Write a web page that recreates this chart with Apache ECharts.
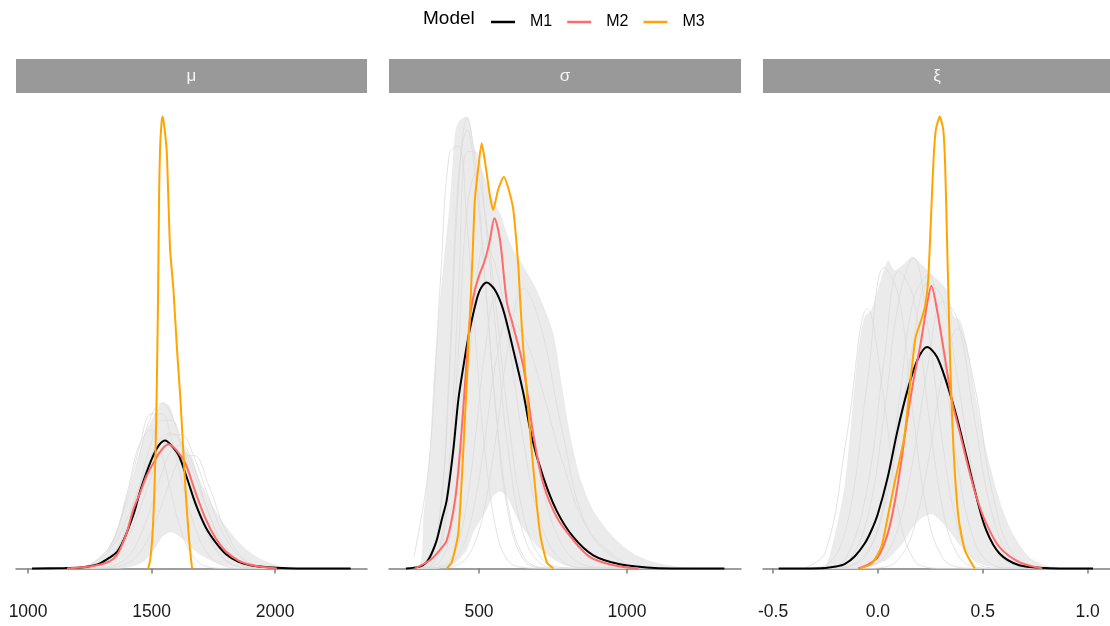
<!DOCTYPE html>
<html>
<head>
<meta charset="utf-8">
<script src="https://cdn.jsdelivr.net/npm/echarts@6/dist/echarts.min.js"></script>
<style>
  html, body { margin: 0; padding: 0; background: #ffffff; }
  #chart { width: 1110px; height: 626px; }
</style>
</head>
<body>
<div id="chart"></div>
<script>
// ---------- facet labels and tick labels ----------
const panelLabels = ['μ', 'σ', 'ξ'];
const muTicks = [1000, 1500, 2000];
const sigmaTicks = [500, 1000];
const xiTicks = [-0.5, 0, 0.5, 1.0];
const modelNames = ['M1', 'M2', 'M3'];

// ---------- μ : posterior densities (relative height) ----------
const muM1 = [[1016,0],[1150,0.001],[1211,0.002],[1260,0.006],[1291,0.011],[1330,0.024],[1359,0.036],[1380,0.055],[1400,0.08],[1430,0.125],[1453,0.17],[1480,0.213],[1507,0.25],[1530,0.273],[1555,0.283],[1580,0.272],[1610,0.25],[1640,0.205],[1680,0.14],[1720,0.09],[1760,0.057],[1800,0.032],[1850,0.015],[1900,0.007],[1960,0.003],[2030,0.001],[2100,0],[2306,0]];
const muM2 = [[1157,0],[1230,0.003],[1290,0.008],[1332,0.016],[1360,0.03],[1380,0.052],[1400,0.08],[1426,0.13],[1455,0.17],[1480,0.205],[1510,0.236],[1534,0.258],[1568,0.275],[1600,0.262],[1637,0.232],[1680,0.165],[1720,0.108],[1760,0.066],[1800,0.038],[1850,0.018],[1900,0.008],[1950,0.003],[2007,0]];
const muM3 = [[1486,0],[1494,0.018],[1502,0.062],[1510,0.151],[1516,0.262],[1520,0.372],[1526,0.594],[1530,0.815],[1534,0.926],[1540,0.985],[1545,1.0],[1551,0.98],[1561,0.926],[1568,0.815],[1575,0.704],[1588,0.62],[1603,0.483],[1617,0.372],[1628,0.262],[1640,0.151],[1652,0.062],[1660,0.018],[1664,0]];
// replicate densities on a shared grid
const muRepX = [1250,1330,1400,1450,1500,1540,1580,1620,1670,1730,1800,1880,1980];
const muReps = [
  [0.008,0.049,0.15,0.25,0.34,0.365,0.34,0.27,0.17,0.07,0.017,0.002,0],
  [0.006,0.047,0.158,0.266,0.342,0.342,0.287,0.2,0.1,0.03,0.005,0,0],
  [0.003,0.019,0.066,0.129,0.205,0.262,0.296,0.296,0.249,0.159,0.066,0.016,0.001],
  [0,0.002,0.011,0.034,0.083,0.139,0.2,0.244,0.25,0.185,0.083,0.018,0.001],
  [0.003,0.024,0.093,0.183,0.28,0.328,0.328,0.28,0.183,0.079,0.019,0.002,0],
  [0.003,0.042,0.165,0.274,0.307,0.254,0.165,0.083,0.025,0.003,0,0,0],
  [0.008,0.04,0.11,0.18,0.25,0.29,0.3,0.275,0.212,0.124,0.047,0.011,0.001],
  [0,0.004,0.024,0.067,0.14,0.209,0.261,0.274,0.226,0.124,0.037,0.005,0]
];
// extent of the replicate bundle
const muEnvX  = [1211,1291,1332,1372,1426,1467,1494,1521,1544,1575,1602,1636,1663,1696,1750,1804,1858,1926,2007,2061];
const muEnvHi = [0,0.018,0.047,0.106,0.195,0.291,0.321,0.35,0.368,0.357,0.306,0.261,0.247,0.195,0.136,0.091,0.055,0.025,0.007,0];
const muEnvLo = [0,0,0,0,0.005,0.015,0.03,0.05,0.07,0.08,0.075,0.06,0.045,0.03,0.015,0.006,0.002,0,0,0];

// ---------- σ ----------
const sigmaM1 = [[253,0],[300,0.004],[323,0.014],[340,0.033],[357,0.062],[375,0.11],[391,0.151],[413,0.261],[430,0.372],[447,0.446],[464,0.512],[486,0.579],[503,0.616],[526,0.633],[554,0.616],[582,0.572],[616,0.483],[650,0.387],[678,0.291],[717,0.202],[762,0.128],[819,0.069],[886,0.029],[976,0.009],[1067,0.002],[1150,0],[1329,0]];
const sigmaM2 = [[284,0],[334,0.018],[360,0.035],[391,0.062],[419,0.151],[436,0.261],[453,0.409],[470,0.557],[486,0.616],[503,0.653],[520,0.682],[537,0.727],[552,0.775],[571,0.727],[594,0.59],[616,0.535],[650,0.446],[683,0.298],[717,0.188],[762,0.114],[819,0.062],[875,0.025],[954,0.007],[1038,0]];
const sigmaM3 = [[391,0],[408,0.014],[430,0.078],[447,0.261],[464,0.483],[479,0.704],[486,0.815],[498,0.889],[509,0.941],[518,0.91],[527,0.87],[538,0.82],[548,0.793],[564,0.837],[584,0.867],[601,0.837],[616,0.793],[633,0.667],[639,0.594],[650,0.483],[678,0.261],[706,0.078],[729,0.014],[751,0]];
const sigmaRepX = [280,330,370,400,430,460,490,520,560,600,650,710,780,870,1000];
const sigmaReps = [
  [0.025,0.227,0.64,0.918,0.935,0.756,0.493,0.259,0.08,0.016,0.002,0,0,0,0],
  [0,0.011,0.132,0.449,0.864,0.97,0.85,0.634,0.333,0.132,0.027,0.002,0,0,0],
  [0,0.004,0.056,0.238,0.603,0.923,0.921,0.779,0.504,0.253,0.076,0.01,0,0,0],
  [0,0.012,0.13,0.42,0.835,0.998,0.882,0.65,0.325,0.117,0.02,0.001,0,0,0],
  [0,0.004,0.045,0.181,0.475,0.797,0.874,0.788,0.565,0.326,0.119,0.023,0.002,0,0],
  [0,0.002,0.017,0.067,0.187,0.397,0.619,0.72,0.659,0.505,0.282,0.097,0.017,0.001,0],
  [0,0.001,0.004,0.017,0.057,0.15,0.304,0.48,0.6,0.554,0.4,0.195,0.053,0.005,0],
  [0,0,0.002,0.009,0.029,0.074,0.16,0.286,0.468,0.55,0.516,0.403,0.24,0.085,0.009],
  [0,0,0.001,0.002,0.009,0.025,0.064,0.138,0.302,0.496,0.62,0.533,0.308,0.084,0.004]
];
const sigmaEnvX  = [250,301,312,334,346,363,378,402,419,433,458,470,481,526,548,571,594,616,638,695,751,779,807,841,886,954,1021,1089,1179,1247];
const sigmaEnvHi = [0,0.01,0.11,0.26,0.41,0.56,0.66,0.815,0.963,0.99,1.0,0.985,0.94,0.852,0.815,0.786,0.741,0.704,0.682,0.616,0.52,0.409,0.298,0.202,0.128,0.069,0.033,0.014,0.003,0];
const sigmaEnvLo = [0,0,0,0,0,0,0.002,0.006,0.012,0.02,0.04,0.06,0.08,0.13,0.16,0.17,0.16,0.13,0.1,0.05,0.02,0.01,0.004,0.001,0,0,0,0,0,0];

// ---------- ξ ----------
const xiM1 = [[-0.473,0],[-0.35,0],[-0.251,0.001],[-0.2,0.004],[-0.157,0.01],[-0.11,0.027],[-0.063,0.055],[-0.03,0.085],[0,0.121],[0.047,0.202],[0.094,0.306],[0.141,0.394],[0.188,0.461],[0.235,0.49],[0.282,0.468],[0.329,0.409],[0.376,0.335],[0.423,0.247],[0.47,0.158],[0.517,0.084],[0.58,0.033],[0.674,0.007],[0.8,0.001],[0.9,0],[1.026,0]];
const xiM2 = [[-0.094,0],[-0.05,0.008],[0,0.025],[0.047,0.077],[0.079,0.143],[0.11,0.232],[0.141,0.335],[0.173,0.424],[0.204,0.498],[0.235,0.586],[0.255,0.625],[0.282,0.572],[0.314,0.483],[0.353,0.372],[0.392,0.298],[0.431,0.224],[0.47,0.158],[0.517,0.099],[0.58,0.047],[0.674,0.014],[0.784,0]];
const xiM3 = [[-0.086,0],[-0.031,0.01],[0.016,0.047],[0.047,0.114],[0.079,0.188],[0.126,0.291],[0.157,0.424],[0.18,0.512],[0.204,0.546],[0.225,0.58],[0.24,0.64],[0.25,0.74],[0.258,0.83],[0.266,0.91],[0.276,0.97],[0.295,1.0],[0.312,0.97],[0.321,0.889],[0.329,0.741],[0.337,0.594],[0.345,0.45],[0.361,0.261],[0.384,0.114],[0.415,0.04],[0.462,0]];
const xiRepX = [-0.35,-0.25,-0.15,-0.05,0.03,0.1,0.17,0.24,0.31,0.38,0.46,0.55,0.65,0.78];
const xiReps = [
  [0.001,0.036,0.288,0.575,0.369,0.121,0.02,0.002,0,0,0,0,0,0],
  [0,0.007,0.092,0.413,0.666,0.6,0.331,0.112,0.023,0.003,0,0,0,0],
  [0,0.001,0.013,0.112,0.343,0.593,0.687,0.529,0.272,0.093,0.017,0.001,0,0],
  [0,0.001,0.025,0.181,0.462,0.658,0.598,0.348,0.13,0.031,0.003,0,0,0],
  [0,0,0.003,0.033,0.148,0.364,0.596,0.649,0.472,0.23,0.061,0.007,0,0],
  [0,0,0,0.004,0.026,0.095,0.247,0.453,0.592,0.55,0.334,0.112,0.017,0.001],
  [0,0,0,0,0.003,0.021,0.086,0.236,0.432,0.53,0.407,0.159,0.027,0.001],
  [0,0,0.004,0.038,0.134,0.3,0.504,0.633,0.595,0.418,0.195,0.053,0.007,0]
];
const xiEnvX  = [-0.3,-0.251,-0.204,-0.157,-0.125,-0.094,-0.063,-0.031,0.047,0.079,0.126,0.165,0.204,0.26,0.329,0.361,0.392,0.423,0.47,0.517,0.58,0.643,0.721,0.8,0.878];
const xiEnvHi = [0,0.003,0.077,0.188,0.335,0.483,0.557,0.572,0.682,0.66,0.675,0.69,0.675,0.65,0.616,0.557,0.55,0.498,0.372,0.261,0.151,0.077,0.025,0.007,0];
const xiEnvLo = [0,0,0,0,0,0,0.002,0.004,0.02,0.035,0.06,0.09,0.11,0.12,0.09,0.07,0.05,0.035,0.015,0.006,0.002,0,0,0,0];

// ---------- layout and style ----------
const FONT = '"Liberation Sans", Arial, Helvetica, sans-serif';
const modelColors = { M1: '#000000', M2: '#FF6A6A', M3: '#FFA500' };
const REP_COLOR = '#dcdcdc';
const BAND_COLOR = '#ebebeb';
const AXIS_GREY = '#7f7f7f';
const PLOT_TOP = 94, PLOT_H = 497;

const panels = [
  { left: 16,  width: 351, min: 951,  max: 2372, ticks: muTicks,    fmt: v => String(v),
    repX: muRepX, reps: muReps, envX: muEnvX, envHi: muEnvHi, envLo: muEnvLo, curves: [muM1, muM2, muM3] },
  { left: 389, width: 352, min: 196,  max: 1385, ticks: sigmaTicks, fmt: v => String(v),
    repX: sigmaRepX, reps: sigmaReps, envX: sigmaEnvX, envHi: sigmaEnvHi, envLo: sigmaEnvLo, curves: [sigmaM1, sigmaM2, sigmaM3] },
  { left: 763, width: 352, min: -0.548, max: 1.107, ticks: xiTicks, fmt: v => Number(v).toFixed(1),
    repX: xiRepX, reps: xiReps, envX: xiEnvX, envHi: xiEnvHi, envLo: xiEnvLo, curves: [xiM1, xiM2, xiM3] }
];

const grids = [], xAxes = [], yAxes = [], series = [], graphics = [];

panels.forEach((p, i) => {
  grids.push({ left: p.left, top: PLOT_TOP, width: p.width, height: PLOT_H });
  xAxes.push({
    type: 'value', gridIndex: i, min: p.min, max: p.max,
    splitLine: { show: false },
    axisLine: { show: true, lineStyle: { color: AXIS_GREY, width: 1.5 } },
    axisTick: { show: true, customValues: p.ticks, length: 5, lineStyle: { color: AXIS_GREY, width: 1.5 } },
    axisLabel: { show: true, customValues: p.ticks, formatter: p.fmt, color: '#1a1a1a',
                 fontSize: 17.5, fontFamily: FONT, margin: 12 }
  });
  yAxes.push({ type: 'value', gridIndex: i, min: -0.05, max: 1.05, show: false });

  // shaded extent of the replicate bundle: upper edge out, lower edge back
  series.push({
    type: 'custom', name: 'bundle', xAxisIndex: i, yAxisIndex: i, silent: true, z: 1, clip: true,
    data: [[p.envX[0], 0]],
    renderItem: (params, api) => {
      const upper = p.envX.map((x, k) => api.coord([x, p.envHi[k]]));
      const lower = p.envX.map((x, k) => api.coord([x, p.envLo[k]])).reverse();
      return {
        type: 'polygon',
        shape: { points: upper.concat(lower), smooth: 0.25 },
        style: { fill: BAND_COLOR }
      };
    }
  });
  // individual replicate densities
  p.reps.forEach(row => {
    series.push({
      type: 'line', name: 'replicate', xAxisIndex: i, yAxisIndex: i,
      data: p.repX.map((x, k) => [x, row[k]]), symbol: 'none', smooth: 0.4,
      lineStyle: { color: REP_COLOR, width: 0.8 }, silent: true, z: 2
    });
  });
  // model posteriors
  modelNames.forEach((m, k) => {
    series.push({
      type: 'line', name: m, xAxisIndex: i, yAxisIndex: i, data: p.curves[k],
      symbol: 'none', smooth: k === 2 ? 0.2 : 0.3,
      lineStyle: { color: modelColors[m], width: 2 }, itemStyle: { color: modelColors[m] },
      silent: true, z: 3 + k
    });
  });

  // facet strip
  graphics.push({
    type: 'rect', shape: { x: p.left, y: 59, width: p.width, height: 34 },
    style: { fill: '#999999' }, silent: true
  });
  graphics.push({
    type: 'text', x: p.left + p.width / 2 - (i === 2 ? 2 : 0), y: 76,
    style: { text: panelLabels[i], fill: '#f5f5f5', font: '17px ' + FONT, align: 'center', verticalAlign: 'middle' },
    silent: true
  });
});

// legend title
graphics.push({
  type: 'text', x: 423, y: 19,
  style: { text: 'Model', fill: '#000000', font: '19px ' + FONT, align: 'left', verticalAlign: 'middle' },
  silent: true
});

const chart = echarts.init(document.getElementById('chart'), null, { renderer: 'canvas' });
chart.setOption({
  animation: false,
  backgroundColor: '#ffffff',
  grid: grids,
  xAxis: xAxes,
  yAxis: yAxes,
  legend: {
    data: modelNames, left: 486, top: 9, icon: 'rect', itemWidth: 24, itemHeight: 2.5, itemGap: 15,
    selectedMode: false,
    textStyle: { fontSize: 16, color: '#000000', fontFamily: FONT, padding: [0, 0, 0, 10] }
  },
  graphic: graphics,
  series: series
});
</script>
</body>
</html>
